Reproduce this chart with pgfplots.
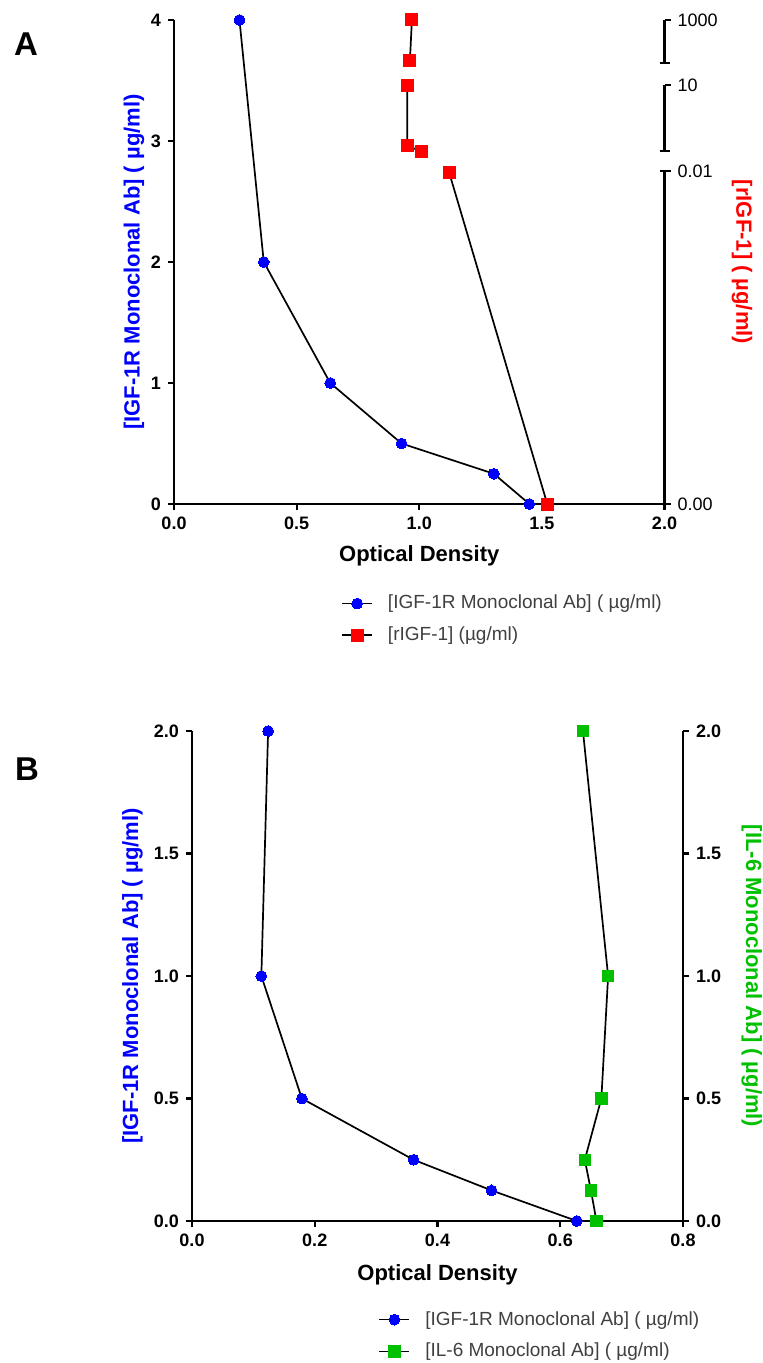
\documentclass[border=0pt]{standalone}
\usepackage{fontspec}
\setmainfont{Liberation Sans}
\usepackage{pgfplots}
\pgfplotsset{compat=1.18}

\definecolor{ogreen}{RGB}{0,192,0}
\definecolor{legtext}{RGB}{64,64,64}

\newcommand\labfont{\bfseries\fontsize{11}{13}\selectfont}

\pgfplotsset{
  odstyle/.style={
    scale only axis,
    clip=false,
    axis line style={-, line width=1.1pt},
    tick style={line width=1.1pt, black},
    major tick length=3pt,
    tick align=outside,
    ticklabel style={font=\bfseries\fontsize{9}{10}\selectfont},
    legend cell align=left,
    legend style={draw=none, fill=none, font=\fontsize{9.5}{11}\selectfont,
      text=legtext, row sep=3.5pt, anchor=north west},
    legend image code/.code={\draw[mark repeat=2,mark phase=2,##1]
      plot coordinates {(0pt,0pt) (7.5pt,0pt) (15pt,0pt)};
      \path (20.5pt,0pt);},
  },
  blueser/.style={black, line width=0.85pt, mark=*, mark size=2.7pt,
    mark options={blue, fill=blue, line width=0pt}},
}

\begin{document}
\begin{tikzpicture}
\path[use as bounding box] (0,0) rectangle (381.5pt,-681.5pt);

% ---- panel A ----
\node[font=\bfseries\fontsize{16.5}{18}\selectfont] at (13pt,-22.25pt) {A};

\begin{axis}[odstyle,
  at={(87pt,-252pt)}, anchor=south west,
  width=245.25pt, height=242pt,
  xmin=0, xmax=2, ymin=0, ymax=4,
  axis x line*=bottom, axis y line*=left,
  xtick={0,0.5,1,1.5,2}, xticklabels={0.0,0.5,1.0,1.5,2.0},
  ytick={0,1,2,3,4}, yticklabels={0,1,2,3,4},
  xlabel={Optical Density},
  ylabel={[IGF-1R Monoclonal Ab] ( µg/ml)},
  every axis x label/.style={at={(axis description cs:0.5,-0.1074)}, anchor=center, font=\labfont},
  every axis y label/.style={at={(axis description cs:-0.0816,0.5)}, anchor=center, rotate=90, blue, font=\labfont},
  legend style={at={(axis description cs:0.328,-0.171)}},
]
\addplot[blueser] coordinates {
  (0.267,4) (0.366,2) (0.637,1) (0.928,0.5) (1.304,0.25) (1.449,0)};
\addlegendentry{[IGF-1R Monoclonal Ab] ( µg/ml)}
\addplot[black, line width=0.85pt, mark=square*, mark size=3pt,
  mark options={red, fill=red, line width=0pt}, unbounded coords=jump] coordinates {
  (0.970,4.0) (0.962,3.665) (0.96,nan) (0.951,3.459) (0.951,2.962) (1.010,2.912)
  (1.06,nan) (1.122,2.739) (1.522,0)};
\addlegendentry{[rIGF-1] (µg/ml)}
\end{axis}

\begin{axis}[odstyle,
  at={(87pt,-252pt)}, anchor=south west,
  width=245.25pt, height=242pt,
  xmin=0, xmax=2, ymin=0, ymax=4,
  axis x line=none, axis y line*=right,
  y axis line style={draw=none},
  ytick={0,2.75,3.464,4}, yticklabels={0.00,0.01,10,1000},
  yticklabel style={font=\fontsize{9}{10}\selectfont},
  ylabel={[rIGF-1] ( µg/ml)},
  every axis y label/.style={at={(axis description cs:1.158,0.5)}, anchor=center, rotate=-90, red, font=\labfont},
]
\draw[line width=1.1pt] (axis cs:2,4) -- (axis cs:2,3.643);
\draw[line width=1.1pt] (axis cs:2,3.464) -- (axis cs:2,2.918);
\draw[line width=1.1pt] (axis cs:2,2.75) -- (axis cs:2,0);
\draw[line width=1.1pt] ([xshift=-2.5pt]axis cs:2,3.643) -- ([xshift=2.5pt]axis cs:2,3.643);
\draw[line width=1.1pt] ([xshift=-2.5pt]axis cs:2,2.918) -- ([xshift=2.5pt]axis cs:2,2.918);
\draw[line width=1.1pt] ([xshift=-2.5pt]axis cs:2,2.75) -- (axis cs:2,2.75);
\end{axis}

% ---- panel B ----
\node[font=\bfseries\fontsize{16.5}{18}\selectfont] at (13.5pt,-384.5pt) {B};

\begin{axis}[odstyle,
  at={(96pt,-610.5pt)}, anchor=south west,
  width=245.5pt, height=245pt,
  xmin=0, xmax=0.8, ymin=0, ymax=2,
  axis x line*=bottom, axis y line*=left,
  xtick={0,0.2,0.4,0.6,0.8}, xticklabels={0.0,0.2,0.4,0.6,0.8},
  ytick={0,0.5,1,1.5,2}, yticklabels={0.0,0.5,1.0,1.5,2.0},
  xlabel={Optical Density},
  ylabel={[IGF-1R Monoclonal Ab] ( µg/ml)},
  every axis x label/.style={at={(axis description cs:0.5,-0.110)}, anchor=center, font=\labfont},
  every axis y label/.style={at={(axis description cs:-0.121,0.5)}, anchor=center, rotate=90, blue, font=\labfont},
  legend style={at={(axis description cs:0.367,-0.167)}},
]
\addplot[blueser] coordinates {
  (0.124,2) (0.113,1) (0.179,0.5) (0.361,0.25) (0.488,0.125) (0.627,0)};
\addlegendentry{[IGF-1R Monoclonal Ab] ( µg/ml)}
\addplot[black, line width=0.85pt, mark=square*, mark size=2.85pt,
  mark options={ogreen, fill=ogreen, line width=0pt}] coordinates {
  (0.637,2) (0.678,1) (0.667,0.5) (0.640,0.25) (0.650,0.125) (0.659,0)};
\addlegendentry{[IL-6 Monoclonal Ab] ( µg/ml)}
\end{axis}

\begin{axis}[odstyle,
  at={(96pt,-610.5pt)}, anchor=south west,
  width=245.5pt, height=245pt,
  xmin=0, xmax=0.8, ymin=0, ymax=2,
  axis x line=none, axis y line*=right,
  ytick={0,0.5,1,1.5,2}, yticklabels={0.0,0.5,1.0,1.5,2.0},
  ylabel={[IL-6 Monoclonal Ab] ( µg/ml)},
  every axis y label/.style={at={(axis description cs:1.14,0.5)}, anchor=center, rotate=-90, ogreen, font=\labfont},
]
\end{axis}
\end{tikzpicture}
\end{document}
